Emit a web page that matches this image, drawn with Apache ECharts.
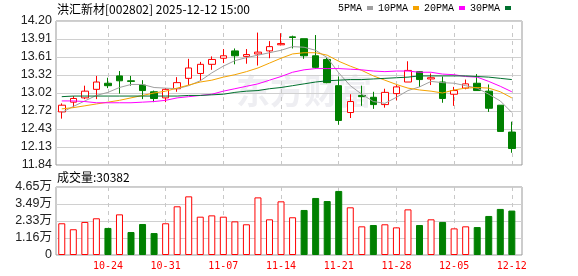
<!DOCTYPE html>
<html><head><meta charset="utf-8">
<script src="https://cdn.jsdelivr.net/npm/echarts@6/dist/echarts.min.js"></script>
<style>html,body{margin:0;padding:0;background:#fff}#c{width:578px;height:276px}</style>
</head><body><div id="c"></div>
<script>
const stockTitle = '洪汇新材[002802] 2025-12-12 15:00';
const dates = ['10-20','10-21','10-22','10-23','10-24','10-27','10-28','10-29','10-30','10-31',
  '11-03','11-04','11-05','11-06','11-07','11-10','11-11','11-12','11-13','11-14',
  '11-17','11-18','11-19','11-20','11-21','11-24','11-25','11-26','11-27','11-28',
  '12-01','12-02','12-03','12-04','12-05','12-08','12-09','12-10','12-11','12-12'];
const opens  = [12.71,12.87,12.94,13.08,13.18,13.30,13.22,13.15,13.04,12.94,
  13.09,13.26,13.34,13.49,13.59,13.71,13.62,13.66,13.71,13.81,
  13.94,13.91,13.63,13.57,13.14,12.70,12.98,12.95,12.83,13.01,
  13.20,13.37,13.25,13.20,13.00,13.10,13.18,13.05,12.82,12.38];
const closes = [12.82,12.93,13.05,13.20,13.14,13.22,13.21,13.06,12.93,13.08,
  13.19,13.43,13.49,13.57,13.63,13.63,13.65,13.69,13.78,13.83,
  13.93,13.63,13.44,13.19,12.57,12.88,12.96,12.83,13.03,13.12,
  13.39,13.24,13.27,12.93,13.06,13.17,13.06,12.77,12.39,12.11];
const lows   = [12.60,12.78,12.92,12.92,13.10,13.01,13.14,12.92,12.87,12.87,
  13.04,13.15,13.22,13.40,13.51,13.49,13.50,13.47,13.59,13.80,
  13.75,13.58,13.42,13.18,12.50,12.61,12.81,12.76,12.78,12.90,
  13.20,13.12,13.15,12.86,12.81,13.08,13.06,12.71,12.39,12.04];
const highs  = [12.85,12.97,13.14,13.30,13.27,13.38,13.30,13.23,13.06,13.10,
  13.28,13.58,13.53,13.62,13.74,13.75,13.74,14.01,13.87,14.00,
  13.96,13.91,13.97,13.60,13.29,13.00,13.14,13.04,13.09,13.15,
  13.54,13.37,13.34,13.29,13.12,13.24,13.33,13.16,12.82,12.55];
const volumes = [21700,17600,22600,25100,18500,27800,15700,21200,15000,21700,
  33300,40100,26200,27100,26200,23000,21000,39400,24400,36700,
  25800,30800,39000,36900,43800,32600,19600,20500,21000,18900,
  31200,20500,24400,22600,18200,19600,19100,26700,31500,30382];
const ma5  = [12.70,12.80,12.89,12.98,13.03,13.11,13.16,13.16,13.11,13.10,
  13.09,13.14,13.22,13.35,13.46,13.55,13.60,13.64,13.68,13.72,
  13.78,13.77,13.72,13.60,13.35,13.14,13.00,12.88,12.85,12.95,
  13.06,13.12,13.21,13.19,13.18,13.14,13.10,13.00,12.89,12.70];
const ma10 = [12.76,12.78,12.81,12.84,12.87,12.90,12.94,12.98,13.02,13.05,
  13.10,13.15,13.20,13.23,13.28,13.32,13.37,13.43,13.51,13.59,
  13.66,13.68,13.68,13.64,13.54,13.46,13.39,13.30,13.23,13.16,
  13.10,13.07,13.05,13.02,13.07,13.10,13.11,13.10,13.04,12.94];
const ma20 = [12.89,12.89,12.88,12.86,12.86,12.86,12.86,12.87,12.88,12.90,
  12.94,12.96,12.98,13.00,13.05,13.09,13.13,13.17,13.23,13.29,
  13.36,13.40,13.42,13.42,13.42,13.41,13.40,13.38,13.37,13.38,
  13.38,13.36,13.36,13.33,13.32,13.29,13.28,13.21,13.13,13.04];
const ma30 = [12.96,12.97,12.97,12.97,12.97,12.97,12.97,12.97,12.97,12.97,
  12.97,12.98,12.98,12.99,13.00,13.03,13.05,13.06,13.09,13.11,
  13.14,13.17,13.20,13.22,13.23,13.24,13.24,13.25,13.26,13.27,
  13.28,13.30,13.30,13.30,13.30,13.30,13.29,13.28,13.26,13.24];
const priceTicks = ['11.84','12.13','12.43','12.72','13.02','13.32','13.61','13.91','14.20'];
const volTicks = ['0','1.16万','2.33万','3.49万','4.65万'];
const maNames = ['5PMA','10PMA','20PMA','30PMA'];
const maColors = ['#a0a0a0','#f5a300','#ff00ff','#00702e'];

const pMin = 11.84, pMax = 14.20, pStep = 0.295;
const vMax = 46500, vStep = 11625;
const UP = '#ff0000', DOWN = '#008000';
const numFont = '"Liberation Sans","Noto Sans CJK SC",sans-serif';

const chart = echarts.init(document.getElementById('c'), null, {renderer: 'canvas'});
const L = 56, W = 466, DW = 461.6, MT = 21, MH = 144, VT = 187, VH = 68;
const isLabelIdx = i => i % 5 === 4;
const labelDates = dates.filter((d, i) => isLabelIdx(i));

const candleData = opens.map((o, i) => [o, closes[i], lows[i], highs[i]]);
const volData = volumes.map((v, i) => {
  const up = i === 0 ? true : closes[i] >= closes[i - 1];
  return {value: v, itemStyle: up ? {color: '#fff', borderColor: UP, borderWidth: 1} : {color: DOWN, borderColor: DOWN, borderWidth: 1}};
});

const dataX = (gi, showLabel) => ({
  gridIndex: gi, type: 'category', data: dates, boundaryGap: true,
  axisLine: {show: false}, axisTick: {show: false},
  axisLabel: {show: showLabel, interval: (idx) => isLabelIdx(idx), color: '#ff0000', fontSize: 10,
    fontFamily: '"DejaVu Sans Mono",monospace', margin: 6},
  splitLine: {show: false}
});
const dashSeries = (xi, yi) => ({
  type: 'line', xAxisIndex: xi, yAxisIndex: yi, data: [], z: 0, silent: true,
  markLine: {z: 0, symbol: ['none', 'none'], silent: true, label: {show: false},
    lineStyle: {color: '#c8c8c8', type: [4, 4], width: 1},
    emphasis: {disabled: true},
    data: labelDates.map(d => ({xAxis: d}))}
});

const option = {
  animation: false,
  backgroundColor: '#fff',
  title: [
    {text: stockTitle, left: 57, top: 3, padding: 0,
     textStyle: {fontSize: 12, fontWeight: 'normal', color: '#000', fontFamily: '"Noto Sans CJK SC",sans-serif'}},
    {text: '成交量:' + volumes[volumes.length - 1], left: 57, top: 171, padding: 0,
     textStyle: {fontSize: 12, fontWeight: 'normal', color: '#000', fontFamily: '"Noto Sans CJK SC",sans-serif'}}
  ],
  legend: {
    data: maNames, left: 338, top: 3, padding: 0, align: 'right', icon: 'rect',
    itemWidth: 6, itemHeight: 4, itemGap: 5, selectedMode: false,
    textStyle: {fontSize: 10, color: '#000', fontFamily: '"Liberation Mono",monospace'}
  },
  graphic: [
    {type: 'text', left: 236, top: 74, z: -10, silent: true,
     style: {text: '东方财富', font: 'bold 34px "Noto Sans CJK SC"', fill: '#eeeef2'}}
  ],
  grid: [
    {left: L, top: MT, width: W, height: MH, show: true, borderColor: '#999', borderWidth: 1, backgroundColor: 'transparent'},
    {left: L, top: MT, width: DW, height: MH},
    {left: L, top: VT, width: W, height: VH, show: true, borderColor: '#999', borderWidth: 1, backgroundColor: 'transparent'},
    {left: L, top: VT, width: DW, height: VH}
  ],
  xAxis: [
    {gridIndex: 0, type: 'value', show: false, min: 0, max: 1},
    dataX(1, false),
    {gridIndex: 2, type: 'value', show: false, min: 0, max: 1},
    dataX(3, true)
  ],
  yAxis: [
    {gridIndex: 0, type: 'value', min: pMin, max: pMax, interval: pStep,
     axisLine: {show: false}, axisTick: {show: false},
     axisLabel: {margin: 4, color: '#222', fontSize: 12.5, fontFamily: numFont,
       formatter: (v) => priceTicks[Math.round((v - pMin) / pStep)] || ''},
     splitLine: {show: true, lineStyle: {color: '#d0d0d0', width: 1}}},
    {gridIndex: 1, type: 'value', min: pMin, max: pMax, show: false, splitLine: {show: false}},
    {gridIndex: 2, type: 'value', min: 0, max: vMax, interval: vStep,
     axisLine: {show: false}, axisTick: {show: false},
     axisLabel: {margin: 4, color: '#222', fontSize: 12.5, fontFamily: numFont,
       formatter: (v) => volTicks[Math.round(v / vStep)] || ''},
     splitLine: {show: true, lineStyle: {color: '#d0d0d0', width: 1}}},
    {gridIndex: 3, type: 'value', min: 0, max: vMax, show: false, splitLine: {show: false}}
  ],
  series: [
    dashSeries(1, 1),
    dashSeries(3, 3),
    {type: 'candlestick', name: 'K', xAxisIndex: 1, yAxisIndex: 1, data: candleData, barWidth: 7, z: 2,
     itemStyle: {color: '#fff', color0: DOWN, borderColor: UP, borderColor0: DOWN, borderWidth: 1}},
    ...maNames.map((n, k) => ({
      type: 'line', name: n, xAxisIndex: 1, yAxisIndex: 1, data: [ma5, ma10, ma20, ma30][k],
      showSymbol: false, symbol: 'none', silent: true, z: 3, color: maColors[k],
      lineStyle: {width: 1, color: maColors[k]}
    })),
    {type: 'bar', name: 'VOL', xAxisIndex: 3, yAxisIndex: 3, data: volData, barWidth: 7, z: 2}
  ]
};
chart.setOption(option);
</script></body></html>
